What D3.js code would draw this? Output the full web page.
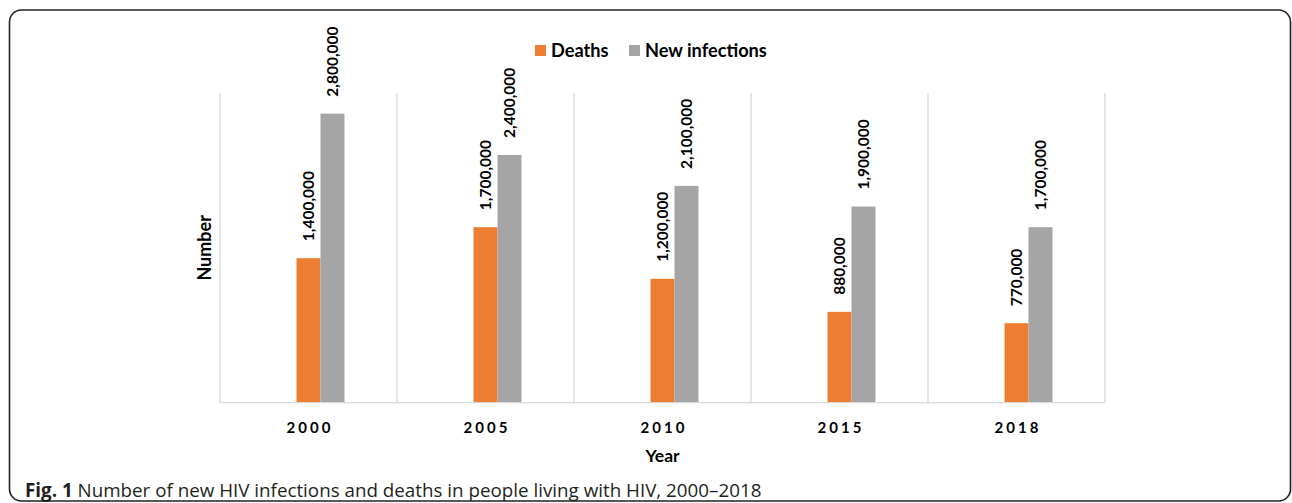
<!DOCTYPE html>
<html>
<head>
<meta charset="utf-8">
<script src="https://cdn.jsdelivr.net/npm/d3@7"></script>
<style>
  body { margin: 0; background: #ffffff; }
  svg { display: block; }
</style>
</head>
<body>
<div id="container"></div>
<script>
/* DATA */
const years = ["2000", "2005", "2010", "2015", "2018"];
const deaths = [1400000, 1700000, 1200000, 880000, 770000];
const newInfections = [2800000, 2400000, 2100000, 1900000, 1700000];
// excel left an empty first series in the cluster, so the pair sits right of centre
const seriesSlots = ["blank", "Deaths", "New infections"];
const seriesColors = { "Deaths": "#ED7D31", "New infections": "#A5A5A5" };
const yTicks = [0, 3000000];

/* CONSTANTS */
const W = 1292, H = 503;
const plot = { left: 220, right: 1105, top: 93, bottom: 402.7 };

const svg = d3.select("#container")
  .append("svg")
  .attr("width", W)
  .attr("height", H);

// frame around the figure
svg.append("rect")
  .attr("x", 9.5).attr("y", 10)
  .attr("width", 1281).attr("height", 491)
  .attr("rx", 12)
  .attr("fill", "none")
  .attr("stroke", "#222")
  .attr("stroke-width", 1.6);

/* SCALES */
const x0 = d3.scaleBand()
  .domain(years)
  .range([plot.left, plot.right])
  .padding(0);

const x1 = d3.scaleBand()
  .domain(seriesSlots)
  .range([0, x0.bandwidth()])
  .paddingInner(0)
  .paddingOuter(2.19);

const y = d3.scaleLinear()
  .domain(d3.extent(yTicks))
  .range([plot.bottom, plot.top]);

/* GRIDLINES */
const bounds = years.map(d => x0(d)).concat([plot.right]);
svg.selectAll(".vgrid")
  .data(bounds)
  .join("line")
  .attr("class", "vgrid")
  .attr("x1", d => d).attr("x2", d => d)
  .attr("y1", y(yTicks[1])).attr("y2", y(0))
  .attr("stroke", "#d9d9d9")
  .attr("stroke-width", 1.3);

/* BARS */
const rows = years.map((yr, i) => ({
  year: yr,
  values: [
    { key: "Deaths", value: deaths[i] },
    { key: "New infections", value: newInfections[i] }
  ]
}));

const groups = svg.selectAll(".grp")
  .data(rows)
  .join("g")
  .attr("class", "grp")
  .attr("transform", d => `translate(${x0(d.year)},0)`);

groups.selectAll("rect")
  .data(d => d.values)
  .join("rect")
  .attr("x", d => x1(d.key))
  .attr("y", d => y(d.value))
  .attr("width", x1.bandwidth())
  .attr("height", d => y(0) - y(d.value))
  .attr("fill", d => seriesColors[d.key]);

groups.selectAll(".lbl")
  .data(d => d.values)
  .join("text")
  .attr("class", "lbl")
  .attr("transform", d => `translate(${x1(d.key) + x1.bandwidth() / 2},${y(d.value) - 17}) rotate(-90)`)
  .attr("dy", "0.36em")
  .style("font-family", "Lato")
  .style("font-weight", "bold")
  .style("font-size", "15.5px")
  .style("fill", "#000")
  .text(d => d3.format(",")(d.value));

/* X AXIS */
svg.append("line")
  .attr("x1", plot.left).attr("x2", plot.right)
  .attr("y1", y(0)).attr("y2", y(0))
  .attr("stroke", "#d9d9d9")
  .attr("stroke-width", 1.3);

const xAxis = svg.append("g")
  .attr("class", "x-axis")
  .attr("transform", `translate(0,${y(0)})`)
  .call(d3.axisBottom(x0).tickSize(0).tickPadding(20));
xAxis.select(".domain").remove();
xAxis.selectAll("text")
  .style("font-family", "Lato")
  .style("font-weight", "bold")
  .style("font-size", "15px")
  .style("letter-spacing", "3px")
  .attr("dx", "1.5px")
  .style("fill", "#000");

svg.append("text")
  .attr("x", (plot.left + plot.right) / 2)
  .attr("y", 462)
  .attr("text-anchor", "middle")
  .style("font-family", "Lato")
  .style("font-weight", "bold")
  .style("font-size", "17.5px")
  .text("Year");

svg.append("text")
  .attr("transform", `translate(211,${(plot.top + plot.bottom) / 2}) rotate(-90)`)
  .attr("text-anchor", "middle")
  .style("font-family", "Lato")
  .style("font-weight", "bold")
  .style("font-size", "18px")
  .text("Number");

/* LEGEND */
const legend = svg.append("g").attr("class", "legend");
const legendItems = [
  { key: "Deaths", x: 535 },
  { key: "New infections", x: 629 }
];
legend.selectAll("rect")
  .data(legendItems)
  .join("rect")
  .attr("x", d => d.x).attr("y", 45)
  .attr("width", 11).attr("height", 11)
  .attr("fill", d => seriesColors[d.key]);
legend.selectAll("text")
  .data(legendItems)
  .join("text")
  .attr("x", d => d.x + 16)
  .attr("y", 56.5)
  .style("font-family", "Lato")
  .style("font-weight", "bold")
  .style("font-size", "18.2px")
  .text(d => d.key);

/* CAPTION */
const cap = svg.append("text")
  .attr("x", 25)
  .attr("y", 497)
  .style("font-family", "Open Sans")
  .style("font-size", "18.8px")
  .style("fill", "#231f20");
cap.append("tspan").style("font-weight", "bold").text("Fig. 1");
cap.append("tspan").text(" Number of new HIV infections and deaths in people living with HIV, 2000–2018");
</script>
</body>
</html>
